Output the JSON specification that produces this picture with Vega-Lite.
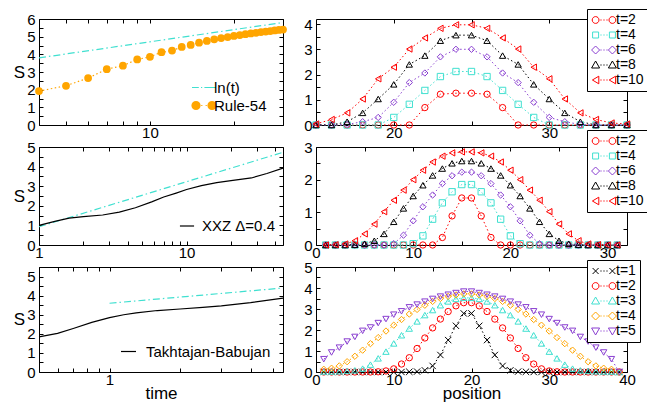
{
"$schema": "https://vega.github.io/schema/vega-lite/v6.json",
"padding": {"left": 12, "top": 8, "right": 0, "bottom": 0},
"bounds": "flush",
"columns": 2,
"spacing": {"row": 22, "column": 33},
"resolve": {"scale": {"color": "independent", "shape": "independent", "stroke": "independent", "x": "independent", "y": "independent"}, "legend": {"color": "independent", "shape": "independent", "stroke": "independent"}},
"config": {
 "font": "Liberation Sans",
 "view": {"stroke": "black", "strokeWidth": 1},
 "axis": {"domain": false, "grid": false, "tickSize": -4, "tickColor": "black", "tickWidth": 1, "labelFont": "Liberation Sans", "labelFontSize": 15, "labelColor": "black", "labelFlush": false, "labelOverlap": false, "titleFont": "Liberation Sans", "titleFontSize": 17, "titleFontWeight": "normal", "titleColor": "black"},
 "axisX": {"labelPadding": 4, "titlePadding": -2},
 "axisY": {"labelPadding": 8},
 "legend": {"labelFont": "Liberation Sans", "labelColor": "black", "labelFontSize": 14, "labelLimit": 300}
},
"datasets": {
 "tl": [
  {"t":4,"S":3.8,"series":"ln(t)"},{"t":10,"S":4.71,"series":"ln(t)"},{"t":30,"S":5.8,"series":"ln(t)"},
  {"t":4,"S":1.92,"series":"Rule-54"},{"t":5,"S":2.22,"series":"Rule-54"},{"t":6,"S":2.66,"series":"Rule-54"},{"t":7,"S":3.16,"series":"Rule-54"},{"t":8,"S":3.36,"series":"Rule-54"},{"t":9,"S":3.71,"series":"Rule-54"},{"t":10,"S":3.86,"series":"Rule-54"},{"t":11,"S":4.12,"series":"Rule-54"},{"t":12,"S":4.21,"series":"Rule-54"},{"t":13,"S":4.42,"series":"Rule-54"},{"t":14,"S":4.53,"series":"Rule-54"},{"t":15,"S":4.66,"series":"Rule-54"},{"t":16,"S":4.76,"series":"Rule-54"},{"t":17,"S":4.85,"series":"Rule-54"},{"t":18,"S":4.92,"series":"Rule-54"},{"t":19,"S":4.98,"series":"Rule-54"},{"t":20,"S":5.04,"series":"Rule-54"},{"t":21,"S":5.09,"series":"Rule-54"},{"t":22,"S":5.14,"series":"Rule-54"},{"t":23,"S":5.18,"series":"Rule-54"},{"t":24,"S":5.22,"series":"Rule-54"},{"t":25,"S":5.26,"series":"Rule-54"},{"t":26,"S":5.29,"series":"Rule-54"},{"t":27,"S":5.32,"series":"Rule-54"},{"t":28,"S":5.35,"series":"Rule-54"},{"t":29,"S":5.38,"series":"Rule-54"},{"t":30,"S":5.4,"series":"Rule-54"}
 ],
 "ml": [
  {"t":1,"S":0.93,"series":"ln(t)"},{"t":10,"S":3.23,"series":"ln(t)"},{"t":45,"S":4.73,"series":"ln(t)"},
  {"t":1,"S":1.0,"series":"XXZ Δ=0.4"},{"t":1.3,"S":1.22,"series":"XXZ Δ=0.4"},{"t":1.6,"S":1.37,"series":"XXZ Δ=0.4"},{"t":2,"S":1.45,"series":"XXZ Δ=0.4"},{"t":2.7,"S":1.53,"series":"XXZ Δ=0.4"},{"t":3.5,"S":1.68,"series":"XXZ Δ=0.4"},{"t":4.5,"S":1.9,"series":"XXZ Δ=0.4"},{"t":5.8,"S":2.2,"series":"XXZ Δ=0.4"},{"t":7,"S":2.45,"series":"XXZ Δ=0.4"},{"t":8.5,"S":2.65,"series":"XXZ Δ=0.4"},{"t":10,"S":2.83,"series":"XXZ Δ=0.4"},{"t":12.6,"S":3.03,"series":"XXZ Δ=0.4"},{"t":16,"S":3.18,"series":"XXZ Δ=0.4"},{"t":20,"S":3.28,"series":"XXZ Δ=0.4"},{"t":27.5,"S":3.42,"series":"XXZ Δ=0.4"},{"t":35,"S":3.65,"series":"XXZ Δ=0.4"},{"t":45,"S":3.92,"series":"XXZ Δ=0.4"}
 ],
 "bl": [
  {"t":1,"S":3.6,"series":"ln(t)"},{"t":2.3,"S":3.99,"series":"ln(t)"},{"t":5.5,"S":4.4,"series":"ln(t)"},
  {"t":0.5,"S":1.84,"series":"Takhtajan-Babujan"},{"t":0.6,"S":2.02,"series":"Takhtajan-Babujan"},{"t":0.7,"S":2.28,"series":"Takhtajan-Babujan"},{"t":0.84,"S":2.6,"series":"Takhtajan-Babujan"},{"t":1,"S":2.85,"series":"Takhtajan-Babujan"},{"t":1.15,"S":3.0,"series":"Takhtajan-Babujan"},{"t":1.3,"S":3.1,"series":"Takhtajan-Babujan"},{"t":1.6,"S":3.22,"series":"Takhtajan-Babujan"},{"t":2,"S":3.3,"series":"Takhtajan-Babujan"},{"t":2.5,"S":3.38,"series":"Takhtajan-Babujan"},{"t":3,"S":3.46,"series":"Takhtajan-Babujan"},{"t":4,"S":3.63,"series":"Takhtajan-Babujan"},{"t":5.5,"S":3.87,"series":"Takhtajan-Babujan"}
 ],
 "tr": [
  {"x":15,"t":"t=2","S":0},{"x":16,"t":"t=2","S":0},{"x":17,"t":"t=2","S":0},{"x":18,"t":"t=2","S":0},{"x":19,"t":"t=2","S":0},{"x":20,"t":"t=2","S":0},{"x":21,"t":"t=2","S":0},{"x":22,"t":"t=2","S":0.69},{"x":23,"t":"t=2","S":1.22},{"x":24,"t":"t=2","S":1.26},{"x":25,"t":"t=2","S":1.26},{"x":26,"t":"t=2","S":1.22},{"x":27,"t":"t=2","S":0.69},{"x":28,"t":"t=2","S":0},{"x":29,"t":"t=2","S":0},{"x":30,"t":"t=2","S":0},{"x":31,"t":"t=2","S":0},{"x":32,"t":"t=2","S":0},{"x":33,"t":"t=2","S":0},{"x":34,"t":"t=2","S":0},{"x":35,"t":"t=2","S":0},
  {"x":15,"t":"t=4","S":0},{"x":16,"t":"t=4","S":0},{"x":17,"t":"t=4","S":0},{"x":18,"t":"t=4","S":0},{"x":19,"t":"t=4","S":0},{"x":20,"t":"t=4","S":0.3},{"x":21,"t":"t=4","S":0.82},{"x":22,"t":"t=4","S":1.37},{"x":23,"t":"t=4","S":1.92},{"x":24,"t":"t=4","S":2.12},{"x":25,"t":"t=4","S":2.12},{"x":26,"t":"t=4","S":1.92},{"x":27,"t":"t=4","S":1.37},{"x":28,"t":"t=4","S":0.82},{"x":29,"t":"t=4","S":0.3},{"x":30,"t":"t=4","S":0},{"x":31,"t":"t=4","S":0},{"x":32,"t":"t=4","S":0},{"x":33,"t":"t=4","S":0},{"x":34,"t":"t=4","S":0},{"x":35,"t":"t=4","S":0},
  {"x":15,"t":"t=6","S":0},{"x":16,"t":"t=6","S":0},{"x":17,"t":"t=6","S":0.02},{"x":18,"t":"t=6","S":0.13},{"x":19,"t":"t=6","S":0.3},{"x":20,"t":"t=6","S":0.9},{"x":21,"t":"t=6","S":1.68},{"x":22,"t":"t=6","S":2.06},{"x":23,"t":"t=6","S":2.7},{"x":24,"t":"t=6","S":3.0},{"x":25,"t":"t=6","S":3.0},{"x":26,"t":"t=6","S":2.7},{"x":27,"t":"t=6","S":2.06},{"x":28,"t":"t=6","S":1.68},{"x":29,"t":"t=6","S":0.9},{"x":30,"t":"t=6","S":0.3},{"x":31,"t":"t=6","S":0.13},{"x":32,"t":"t=6","S":0.02},{"x":33,"t":"t=6","S":0},{"x":34,"t":"t=6","S":0},{"x":35,"t":"t=6","S":0},
  {"x":15,"t":"t=8","S":0},{"x":16,"t":"t=8","S":0},{"x":17,"t":"t=8","S":0.13},{"x":18,"t":"t=8","S":0.48},{"x":19,"t":"t=8","S":1.03},{"x":20,"t":"t=8","S":1.61},{"x":21,"t":"t=8","S":2.4},{"x":22,"t":"t=8","S":2.75},{"x":23,"t":"t=8","S":3.34},{"x":24,"t":"t=8","S":3.56},{"x":25,"t":"t=8","S":3.56},{"x":26,"t":"t=8","S":3.34},{"x":27,"t":"t=8","S":2.75},{"x":28,"t":"t=8","S":2.4},{"x":29,"t":"t=8","S":1.61},{"x":30,"t":"t=8","S":1.03},{"x":31,"t":"t=8","S":0.48},{"x":32,"t":"t=8","S":0.13},{"x":33,"t":"t=8","S":0},{"x":34,"t":"t=8","S":0},{"x":35,"t":"t=8","S":0},
  {"x":15,"t":"t=10","S":0.04},{"x":16,"t":"t=10","S":0.22},{"x":17,"t":"t=10","S":0.48},{"x":18,"t":"t=10","S":1.03},{"x":19,"t":"t=10","S":1.83},{"x":20,"t":"t=10","S":2.29},{"x":21,"t":"t=10","S":3.01},{"x":22,"t":"t=10","S":3.45},{"x":23,"t":"t=10","S":3.83},{"x":24,"t":"t=10","S":3.97},{"x":25,"t":"t=10","S":3.97},{"x":26,"t":"t=10","S":3.83},{"x":27,"t":"t=10","S":3.45},{"x":28,"t":"t=10","S":3.01},{"x":29,"t":"t=10","S":2.29},{"x":30,"t":"t=10","S":1.83},{"x":31,"t":"t=10","S":1.03},{"x":32,"t":"t=10","S":0.48},{"x":33,"t":"t=10","S":0.22},{"x":34,"t":"t=10","S":0.08},{"x":35,"t":"t=10","S":0.04}
 ],
 "mr": [
  {"x":1,"t":"t=2","S":0},{"x":2,"t":"t=2","S":0},{"x":3,"t":"t=2","S":0},{"x":4,"t":"t=2","S":0},{"x":5,"t":"t=2","S":0},{"x":6,"t":"t=2","S":0},{"x":7,"t":"t=2","S":0},{"x":8,"t":"t=2","S":0},{"x":9,"t":"t=2","S":0},{"x":10,"t":"t=2","S":0},{"x":11,"t":"t=2","S":0},{"x":12,"t":"t=2","S":0},{"x":13,"t":"t=2","S":0.23},{"x":14,"t":"t=2","S":0.89},{"x":15,"t":"t=2","S":1.44},{"x":16,"t":"t=2","S":1.44},{"x":17,"t":"t=2","S":0.89},{"x":18,"t":"t=2","S":0.23},{"x":19,"t":"t=2","S":0},{"x":20,"t":"t=2","S":0},{"x":21,"t":"t=2","S":0},{"x":22,"t":"t=2","S":0},{"x":23,"t":"t=2","S":0},{"x":24,"t":"t=2","S":0},{"x":25,"t":"t=2","S":0},{"x":26,"t":"t=2","S":0},{"x":27,"t":"t=2","S":0},{"x":28,"t":"t=2","S":0},{"x":29,"t":"t=2","S":0},{"x":30,"t":"t=2","S":0},{"x":31,"t":"t=2","S":0},
  {"x":1,"t":"t=4","S":0},{"x":2,"t":"t=4","S":0},{"x":3,"t":"t=4","S":0},{"x":4,"t":"t=4","S":0},{"x":5,"t":"t=4","S":0},{"x":6,"t":"t=4","S":0},{"x":7,"t":"t=4","S":0},{"x":8,"t":"t=4","S":0},{"x":9,"t":"t=4","S":0},{"x":10,"t":"t=4","S":0.04},{"x":11,"t":"t=4","S":0.28},{"x":12,"t":"t=4","S":0.79},{"x":13,"t":"t=4","S":1.29},{"x":14,"t":"t=4","S":1.63},{"x":15,"t":"t=4","S":1.85},{"x":16,"t":"t=4","S":1.85},{"x":17,"t":"t=4","S":1.63},{"x":18,"t":"t=4","S":1.29},{"x":19,"t":"t=4","S":0.79},{"x":20,"t":"t=4","S":0.28},{"x":21,"t":"t=4","S":0.04},{"x":22,"t":"t=4","S":0},{"x":23,"t":"t=4","S":0},{"x":24,"t":"t=4","S":0},{"x":25,"t":"t=4","S":0},{"x":26,"t":"t=4","S":0},{"x":27,"t":"t=4","S":0},{"x":28,"t":"t=4","S":0},{"x":29,"t":"t=4","S":0},{"x":30,"t":"t=4","S":0},{"x":31,"t":"t=4","S":0},
  {"x":1,"t":"t=6","S":0},{"x":2,"t":"t=6","S":0},{"x":3,"t":"t=6","S":0},{"x":4,"t":"t=6","S":0},{"x":5,"t":"t=6","S":0},{"x":6,"t":"t=6","S":0},{"x":7,"t":"t=6","S":0},{"x":8,"t":"t=6","S":0.04},{"x":9,"t":"t=6","S":0.3},{"x":10,"t":"t=6","S":0.74},{"x":11,"t":"t=6","S":1.17},{"x":12,"t":"t=6","S":1.53},{"x":13,"t":"t=6","S":1.88},{"x":14,"t":"t=6","S":2.12},{"x":15,"t":"t=6","S":2.23},{"x":16,"t":"t=6","S":2.23},{"x":17,"t":"t=6","S":2.12},{"x":18,"t":"t=6","S":1.88},{"x":19,"t":"t=6","S":1.53},{"x":20,"t":"t=6","S":1.17},{"x":21,"t":"t=6","S":0.74},{"x":22,"t":"t=6","S":0.3},{"x":23,"t":"t=6","S":0.04},{"x":24,"t":"t=6","S":0},{"x":25,"t":"t=6","S":0},{"x":26,"t":"t=6","S":0},{"x":27,"t":"t=6","S":0},{"x":28,"t":"t=6","S":0},{"x":29,"t":"t=6","S":0},{"x":30,"t":"t=6","S":0},{"x":31,"t":"t=6","S":0},
  {"x":1,"t":"t=8","S":0},{"x":2,"t":"t=8","S":0},{"x":3,"t":"t=8","S":0},{"x":4,"t":"t=8","S":0.01},{"x":5,"t":"t=8","S":0.04},{"x":6,"t":"t=8","S":0.13},{"x":7,"t":"t=8","S":0.34},{"x":8,"t":"t=8","S":0.71},{"x":9,"t":"t=8","S":1.12},{"x":10,"t":"t=8","S":1.5},{"x":11,"t":"t=8","S":1.83},{"x":12,"t":"t=8","S":2.13},{"x":13,"t":"t=8","S":2.34},{"x":14,"t":"t=8","S":2.5},{"x":15,"t":"t=8","S":2.57},{"x":16,"t":"t=8","S":2.57},{"x":17,"t":"t=8","S":2.5},{"x":18,"t":"t=8","S":2.34},{"x":19,"t":"t=8","S":2.13},{"x":20,"t":"t=8","S":1.83},{"x":21,"t":"t=8","S":1.5},{"x":22,"t":"t=8","S":1.12},{"x":23,"t":"t=8","S":0.71},{"x":24,"t":"t=8","S":0.34},{"x":25,"t":"t=8","S":0.13},{"x":26,"t":"t=8","S":0.04},{"x":27,"t":"t=8","S":0.01},{"x":28,"t":"t=8","S":0},{"x":29,"t":"t=8","S":0},{"x":30,"t":"t=8","S":0},{"x":31,"t":"t=8","S":0},
  {"x":1,"t":"t=10","S":0},{"x":2,"t":"t=10","S":0.01},{"x":3,"t":"t=10","S":0.03},{"x":4,"t":"t=10","S":0.13},{"x":5,"t":"t=10","S":0.34},{"x":6,"t":"t=10","S":0.64},{"x":7,"t":"t=10","S":1.02},{"x":8,"t":"t=10","S":1.37},{"x":9,"t":"t=10","S":1.68},{"x":10,"t":"t=10","S":2.0},{"x":11,"t":"t=10","S":2.29},{"x":12,"t":"t=10","S":2.54},{"x":13,"t":"t=10","S":2.72},{"x":14,"t":"t=10","S":2.82},{"x":15,"t":"t=10","S":2.85},{"x":16,"t":"t=10","S":2.85},{"x":17,"t":"t=10","S":2.82},{"x":18,"t":"t=10","S":2.72},{"x":19,"t":"t=10","S":2.54},{"x":20,"t":"t=10","S":2.29},{"x":21,"t":"t=10","S":2.0},{"x":22,"t":"t=10","S":1.68},{"x":23,"t":"t=10","S":1.37},{"x":24,"t":"t=10","S":1.02},{"x":25,"t":"t=10","S":0.64},{"x":26,"t":"t=10","S":0.34},{"x":27,"t":"t=10","S":0.13},{"x":28,"t":"t=10","S":0.03},{"x":29,"t":"t=10","S":0.01},{"x":30,"t":"t=10","S":0},{"x":31,"t":"t=10","S":0}
 ],
 "br": [
  {"x":1,"t":"t=1","S":0},{"x":2,"t":"t=1","S":0},{"x":3,"t":"t=1","S":0},{"x":4,"t":"t=1","S":0},{"x":5,"t":"t=1","S":0},{"x":6,"t":"t=1","S":0},{"x":7,"t":"t=1","S":0},{"x":8,"t":"t=1","S":0},{"x":9,"t":"t=1","S":0},{"x":10,"t":"t=1","S":0},{"x":11,"t":"t=1","S":0},{"x":12,"t":"t=1","S":0.01},{"x":13,"t":"t=1","S":0.02},{"x":14,"t":"t=1","S":0.08},{"x":15,"t":"t=1","S":0.29},{"x":16,"t":"t=1","S":0.81},{"x":17,"t":"t=1","S":1.52},{"x":18,"t":"t=1","S":2.2},{"x":19,"t":"t=1","S":2.79},{"x":20,"t":"t=1","S":2.79},{"x":21,"t":"t=1","S":2.2},{"x":22,"t":"t=1","S":1.52},{"x":23,"t":"t=1","S":0.81},{"x":24,"t":"t=1","S":0.29},{"x":25,"t":"t=1","S":0.08},{"x":26,"t":"t=1","S":0.02},{"x":27,"t":"t=1","S":0.01},{"x":28,"t":"t=1","S":0},{"x":29,"t":"t=1","S":0},{"x":30,"t":"t=1","S":0},{"x":31,"t":"t=1","S":0},{"x":32,"t":"t=1","S":0},{"x":33,"t":"t=1","S":0},{"x":34,"t":"t=1","S":0},{"x":35,"t":"t=1","S":0},{"x":36,"t":"t=1","S":0},{"x":37,"t":"t=1","S":0},{"x":38,"t":"t=1","S":0},{"x":39,"t":"t=1","S":0},
  {"x":1,"t":"t=2","S":0},{"x":2,"t":"t=2","S":0},{"x":3,"t":"t=2","S":0},{"x":4,"t":"t=2","S":0},{"x":5,"t":"t=2","S":0},{"x":6,"t":"t=2","S":0},{"x":7,"t":"t=2","S":0},{"x":8,"t":"t=2","S":0.01},{"x":9,"t":"t=2","S":0.05},{"x":10,"t":"t=2","S":0.15},{"x":11,"t":"t=2","S":0.38},{"x":12,"t":"t=2","S":0.68},{"x":13,"t":"t=2","S":1.12},{"x":14,"t":"t=2","S":1.62},{"x":15,"t":"t=2","S":2.1},{"x":16,"t":"t=2","S":2.52},{"x":17,"t":"t=2","S":2.88},{"x":18,"t":"t=2","S":3.15},{"x":19,"t":"t=2","S":3.3},{"x":20,"t":"t=2","S":3.3},{"x":21,"t":"t=2","S":3.15},{"x":22,"t":"t=2","S":2.88},{"x":23,"t":"t=2","S":2.52},{"x":24,"t":"t=2","S":2.1},{"x":25,"t":"t=2","S":1.62},{"x":26,"t":"t=2","S":1.12},{"x":27,"t":"t=2","S":0.68},{"x":28,"t":"t=2","S":0.38},{"x":29,"t":"t=2","S":0.15},{"x":30,"t":"t=2","S":0.05},{"x":31,"t":"t=2","S":0.01},{"x":32,"t":"t=2","S":0},{"x":33,"t":"t=2","S":0},{"x":34,"t":"t=2","S":0},{"x":35,"t":"t=2","S":0},{"x":36,"t":"t=2","S":0},{"x":37,"t":"t=2","S":0},{"x":38,"t":"t=2","S":0},{"x":39,"t":"t=2","S":0},
  {"x":1,"t":"t=3","S":0.02},{"x":2,"t":"t=3","S":0.02},{"x":3,"t":"t=3","S":0.03},{"x":4,"t":"t=3","S":0.05},{"x":5,"t":"t=3","S":0.08},{"x":6,"t":"t=3","S":0.16},{"x":7,"t":"t=3","S":0.35},{"x":8,"t":"t=3","S":0.65},{"x":9,"t":"t=3","S":0.97},{"x":10,"t":"t=3","S":1.36},{"x":11,"t":"t=3","S":1.75},{"x":12,"t":"t=3","S":2.07},{"x":13,"t":"t=3","S":2.41},{"x":14,"t":"t=3","S":2.71},{"x":15,"t":"t=3","S":2.95},{"x":16,"t":"t=3","S":3.18},{"x":17,"t":"t=3","S":3.36},{"x":18,"t":"t=3","S":3.48},{"x":19,"t":"t=3","S":3.53},{"x":20,"t":"t=3","S":3.53},{"x":21,"t":"t=3","S":3.48},{"x":22,"t":"t=3","S":3.36},{"x":23,"t":"t=3","S":3.18},{"x":24,"t":"t=3","S":2.95},{"x":25,"t":"t=3","S":2.71},{"x":26,"t":"t=3","S":2.41},{"x":27,"t":"t=3","S":2.07},{"x":28,"t":"t=3","S":1.75},{"x":29,"t":"t=3","S":1.36},{"x":30,"t":"t=3","S":0.97},{"x":31,"t":"t=3","S":0.65},{"x":32,"t":"t=3","S":0.35},{"x":33,"t":"t=3","S":0.16},{"x":34,"t":"t=3","S":0.08},{"x":35,"t":"t=3","S":0.05},{"x":36,"t":"t=3","S":0.03},{"x":37,"t":"t=3","S":0.02},{"x":38,"t":"t=3","S":0.02},{"x":39,"t":"t=3","S":0},
  {"x":1,"t":"t=4","S":0.13},{"x":2,"t":"t=4","S":0.18},{"x":3,"t":"t=4","S":0.29},{"x":4,"t":"t=4","S":0.49},{"x":5,"t":"t=4","S":0.75},{"x":6,"t":"t=4","S":1.04},{"x":7,"t":"t=4","S":1.35},{"x":8,"t":"t=4","S":1.64},{"x":9,"t":"t=4","S":1.95},{"x":10,"t":"t=4","S":2.23},{"x":11,"t":"t=4","S":2.5},{"x":12,"t":"t=4","S":2.76},{"x":13,"t":"t=4","S":2.98},{"x":14,"t":"t=4","S":3.18},{"x":15,"t":"t=4","S":3.36},{"x":16,"t":"t=4","S":3.5},{"x":17,"t":"t=4","S":3.6},{"x":18,"t":"t=4","S":3.67},{"x":19,"t":"t=4","S":3.72},{"x":20,"t":"t=4","S":3.72},{"x":21,"t":"t=4","S":3.67},{"x":22,"t":"t=4","S":3.6},{"x":23,"t":"t=4","S":3.5},{"x":24,"t":"t=4","S":3.36},{"x":25,"t":"t=4","S":3.18},{"x":26,"t":"t=4","S":2.98},{"x":27,"t":"t=4","S":2.76},{"x":28,"t":"t=4","S":2.5},{"x":29,"t":"t=4","S":2.23},{"x":30,"t":"t=4","S":1.95},{"x":31,"t":"t=4","S":1.64},{"x":32,"t":"t=4","S":1.35},{"x":33,"t":"t=4","S":1.04},{"x":34,"t":"t=4","S":0.75},{"x":35,"t":"t=4","S":0.49},{"x":36,"t":"t=4","S":0.29},{"x":37,"t":"t=4","S":0.18},{"x":38,"t":"t=4","S":0.13},{"x":39,"t":"t=4","S":0},
  {"x":1,"t":"t=5","S":0.61},{"x":2,"t":"t=5","S":0.93},{"x":3,"t":"t=5","S":1.16},{"x":4,"t":"t=5","S":1.45},{"x":5,"t":"t=5","S":1.67},{"x":6,"t":"t=5","S":1.96},{"x":7,"t":"t=5","S":2.12},{"x":8,"t":"t=5","S":2.33},{"x":9,"t":"t=5","S":2.52},{"x":10,"t":"t=5","S":2.73},{"x":11,"t":"t=5","S":2.89},{"x":12,"t":"t=5","S":3.08},{"x":13,"t":"t=5","S":3.21},{"x":14,"t":"t=5","S":3.35},{"x":15,"t":"t=5","S":3.48},{"x":16,"t":"t=5","S":3.59},{"x":17,"t":"t=5","S":3.68},{"x":18,"t":"t=5","S":3.76},{"x":19,"t":"t=5","S":3.83},{"x":20,"t":"t=5","S":3.83},{"x":21,"t":"t=5","S":3.76},{"x":22,"t":"t=5","S":3.68},{"x":23,"t":"t=5","S":3.59},{"x":24,"t":"t=5","S":3.48},{"x":25,"t":"t=5","S":3.35},{"x":26,"t":"t=5","S":3.21},{"x":27,"t":"t=5","S":3.08},{"x":28,"t":"t=5","S":2.89},{"x":29,"t":"t=5","S":2.73},{"x":30,"t":"t=5","S":2.52},{"x":31,"t":"t=5","S":2.33},{"x":32,"t":"t=5","S":2.12},{"x":33,"t":"t=5","S":1.96},{"x":34,"t":"t=5","S":1.67},{"x":35,"t":"t=5","S":1.45},{"x":36,"t":"t=5","S":1.16},{"x":37,"t":"t=5","S":0.93},{"x":38,"t":"t=5","S":0.61},{"x":39,"t":"t=5","S":0}
 ]
},
"concat": [
 {
  "width": 244, "height": 106, "data": {"name": "tl"},
  "layer": [
   {"transform": [{"filter": "datum.series === 'ln(t)'"}],
    "mark": {"type": "line", "strokeDash": [7, 3, 1.5, 3], "strokeWidth": 1.2, "color": "#40e0d0"},
    "encoding": {
     "x": {"field": "t", "type": "quantitative", "scale": {"type": "log", "domain": [4, 30], "nice": false}, "axis": {"orient": "bottom", "values": [4,5,6,7,8,9,10,20,30], "labelExpr": "datum.value === 10 ? '10' : ''", "title": null}},
     "y": {"field": "S", "type": "quantitative", "scale": {"domain": [0, 6], "nice": false}, "axis": {"orient": "left", "values": [0,0.5,1,1.5,2,2.5,3,3.5,4,4.5,5,5.5,6], "labelExpr": "datum.value % 1 === 0 ? '' + datum.value : ''", "title": "S", "titleAngle": 0, "titleX": -20, "titleY": 53, "titleAlign": "center", "titleBaseline": "middle"}}
    }},
   {"transform": [{"filter": "datum.series === 'Rule-54'"}],
    "mark": {"type": "line", "strokeDash": [1.5, 2.5], "strokeWidth": 1.2, "color": "#ffa500"},
    "encoding": {
     "x": {"field": "t", "type": "quantitative", "scale": {"type": "log", "domain": [4, 30], "nice": false}, "axis": null},
     "y": {"field": "S", "type": "quantitative", "scale": {"domain": [0, 6], "nice": false}, "axis": null}
    }},
   {"transform": [{"filter": "datum.series === 'Rule-54'"}],
    "mark": {"type": "point", "filled": true, "size": 60, "opacity": 1, "color": "#ffa500"},
    "encoding": {
     "x": {"field": "t", "type": "quantitative", "scale": {"type": "log", "domain": [4, 30], "nice": false}, "axis": null},
     "y": {"field": "S", "type": "quantitative", "scale": {"domain": [0, 6], "nice": false}, "axis": null}
    }},
   {"mark": {"type": "point", "filled": true, "opacity": 0, "strokeWidth": 1.2, "size": 64},
    "encoding": {
     "x": {"field": "t", "type": "quantitative", "scale": {"type": "log", "domain": [4, 30], "nice": false}, "axis": null},
     "y": {"field": "S", "type": "quantitative", "scale": {"domain": [0, 6], "nice": false}, "axis": null},
     "color": {"field": "series", "type": "nominal", "scale": {"domain": ["ln(t)", "Rule-54"], "range": ["#40e0d0", "#ffa500"]},
      "legend": {"orient": "none", "legendX": 157.5, "legendY": 61, "title": null, "padding": 0, "labelFontSize": 15, "symbolSize": 64, "labelOffset": 2.5, "rowPadding": 2, "symbolStrokeWidth": 1.2}},
     "stroke": {"field": "series", "type": "nominal", "scale": {"domain": ["ln(t)", "Rule-54"], "range": ["#40e0d0", "#ffa500"]},
      "legend": {"orient": "none", "legendX": 157.5, "legendY": 61, "title": null, "padding": 0, "labelFontSize": 15, "symbolSize": 64, "labelOffset": 2.5, "rowPadding": 2, "symbolStrokeWidth": 1.2}},
     "shape": {"field": "series", "type": "nominal", "scale": {"domain": ["ln(t)", "Rule-54"], "range": ["M-3,0H-1.3M-0.75,0H-0.45M0.1,0H3", "M-3,0a1,1 0 1,0 2,0a1,1 0 1,0 -2,0M-2.7,0a0.7,0.7 0 1,0 1.4,0a0.7,0.7 0 1,0 -1.4,0M-2.4,0a0.4,0.4 0 1,0 0.8,0a0.4,0.4 0 1,0 -0.8,0M-2.15,0a0.15,0.15 0 1,0 0.3,0a0.15,0.15 0 1,0 -0.3,0M1,0a1,1 0 1,0 2,0a1,1 0 1,0 -2,0M1.3,0a0.7,0.7 0 1,0 1.4,0a0.7,0.7 0 1,0 -1.4,0M1.6,0a0.4,0.4 0 1,0 0.8,0a0.4,0.4 0 1,0 -0.8,0M1.85,0a0.15,0.15 0 1,0 0.3,0a0.15,0.15 0 1,0 -0.3,0M-0.7,0h0.3M0.4,0h0.3"]},
      "legend": {"orient": "none", "legendX": 157.5, "legendY": 61, "title": null, "padding": 0, "labelFontSize": 15, "symbolSize": 64, "labelOffset": 2.5, "rowPadding": 2, "symbolStrokeWidth": 1.2}}
    }},
   {"mark": {"type": "point", "opacity": 0},
    "encoding": {
     "x": {"field": "t", "type": "quantitative", "scale": {"type": "log", "domain": [4, 30], "nice": false}, "axis": {"orient": "top", "values": [4,5,6,7,8,9,10,20,30], "labels": false, "title": null}},
     "y": {"field": "S", "type": "quantitative", "scale": {"domain": [0, 6], "nice": false}, "axis": {"orient": "right", "values": [0,0.5,1,1.5,2,2.5,3,3.5,4,4.5,5,5.5,6], "labels": false, "title": null}}
    }}
  ],
  "resolve": {"axis": {"x": "independent", "y": "independent"}}
 },
 {
  "width": 311, "height": 106, "data": {"name": "tr"},
  "layer": [
   {"mark": {"type": "line", "strokeDash": [1.5, 2.5], "strokeWidth": 1},
    "encoding": {
     "x": {"field": "x", "type": "quantitative", "scale": {"domain": [15, 35], "nice": false}, "axis": {"orient": "bottom", "values": [20, 25, 30], "labelExpr": "datum.value % 10 === 0 ? '' + datum.value : ''", "title": null}},
     "y": {"field": "S", "type": "quantitative", "scale": {"domain": [0, 4.2], "nice": false}, "axis": {"orient": "left", "values": [0,0.5,1,1.5,2,2.5,3,3.5,4], "labelExpr": "datum.value % 1 === 0 ? '' + datum.value : ''", "title": null}},
     "color": {"field": "t", "type": "nominal", "scale": {"domain": ["t=2","t=4","t=6","t=8","t=10"], "range": ["#ff0000","#40e0d0","#8a3fd1","#000000","#ff0000"]}, "legend": null}
    }},
   {"mark": {"type": "point", "filled": false, "size": 40, "strokeWidth": 1, "opacity": 1},
    "encoding": {
     "x": {"field": "x", "type": "quantitative", "scale": {"domain": [15, 35], "nice": false}, "axis": null},
     "y": {"field": "S", "type": "quantitative", "scale": {"domain": [0, 4.2], "nice": false}, "axis": null},
     "color": {"field": "t", "type": "nominal", "scale": {"domain": ["t=2","t=4","t=6","t=8","t=10"], "range": ["#ff0000","#40e0d0","#8a3fd1","#000000","#ff0000"]}, "legend": null},
     "shape": {"field": "t", "type": "nominal", "scale": {"domain": ["t=2","t=4","t=6","t=8","t=10"], "range": ["circle","square","diamond","triangle-up","triangle-left"]}, "legend": null}
    }},
   {"mark": {"type": "point", "filled": false, "opacity": 0, "strokeWidth": 1, "size": 64},
    "encoding": {
     "x": {"field": "x", "type": "quantitative", "scale": {"domain": [15, 35], "nice": false}, "axis": null},
     "y": {"field": "S", "type": "quantitative", "scale": {"domain": [0, 4.2], "nice": false}, "axis": null},
     "color": {"field": "t", "type": "nominal", "scale": {"domain": ["t=2","t=4","t=6","t=8","t=10"], "range": ["#ff0000","#40e0d0","#8a3fd1","#000000","#ff0000"]},
      "legend": {"orient": "none", "legendX": 271, "legendY": -10, "title": null, "padding": 4, "strokeColor": "black", "fillColor": "white", "labelFontSize": 14, "symbolSize": 64, "symbolStrokeWidth": 1, "symbolOffset": 6, "labelOffset": 5, "rowPadding": 1}},
     "shape": {"field": "t", "type": "nominal", "scale": {"domain": ["t=2","t=4","t=6","t=8","t=10"], "range": ["M-2.95,0a0.85,0.85 0 1,0 1.7,0a0.85,0.85 0 1,0 -1.7,0M1.25,0a0.85,0.85 0 1,0 1.7,0a0.85,0.85 0 1,0 -1.7,0M-0.9,0h0.3M-0.15,0h0.3M0.6,0h0.3", "M-2.85,-0.75h1.5v1.5h-1.5zM1.35,-0.75h1.5v1.5h-1.5zM-0.9,0h0.3M-0.15,0h0.3M0.6,0h0.3", "M-2.1,-1l1,1l-1,1l-1,-1zM2.1,-1l1,1l-1,1l-1,-1zM-0.9,0h0.3M-0.15,0h0.3M0.6,0h0.3", "M-2.1,-1L-1.1,0.75L-3.1,0.75zM2.1,-1L3.1,0.75L1.1,0.75zM-0.9,0h0.3M-0.15,0h0.3M0.6,0h0.3", "M-2.9,0L-1.3,-0.95L-1.3,0.95zM1.3,0L2.9,-0.95L2.9,0.95zM-0.9,0h0.3M-0.15,0h0.3M0.6,0h0.3"]},
      "legend": {"orient": "none", "legendX": 271, "legendY": -10, "title": null, "padding": 4, "strokeColor": "black", "fillColor": "white", "labelFontSize": 14, "symbolSize": 64, "symbolStrokeWidth": 1, "symbolOffset": 6, "labelOffset": 5, "rowPadding": 1}}
    }},
   {"mark": {"type": "point", "opacity": 0},
    "encoding": {
     "x": {"field": "x", "type": "quantitative", "scale": {"domain": [15, 35], "nice": false}, "axis": {"orient": "top", "values": [20, 25, 30], "labels": false, "title": null}},
     "y": {"field": "S", "type": "quantitative", "scale": {"domain": [0, 4.2], "nice": false}, "axis": {"orient": "right", "values": [0,0.5,1,1.5,2,2.5,3,3.5,4], "labels": false, "title": null}}
    }}
  ],
  "resolve": {"scale": {"color": "independent", "shape": "independent"}, "axis": {"x": "independent", "y": "independent"}}
 },
 {
  "width": 244, "height": 98, "data": {"name": "ml"},
  "layer": [
   {"transform": [{"filter": "datum.series === 'ln(t)'"}],
    "mark": {"type": "line", "strokeDash": [7, 3, 1.5, 3], "strokeWidth": 1.2, "color": "#40e0d0"},
    "encoding": {
     "x": {"field": "t", "type": "quantitative", "scale": {"type": "log", "domain": [1, 45], "nice": false}, "axis": {"orient": "bottom", "values": [1,2,3,4,5,6,7,8,9,10,20,30,40], "labelExpr": "datum.value === 1 || datum.value === 10 ? '' + datum.value : ''", "title": null}},
     "y": {"field": "S", "type": "quantitative", "scale": {"domain": [0, 5], "nice": false}, "axis": {"orient": "left", "values": [0,0.5,1,1.5,2,2.5,3,3.5,4,4.5,5], "labelExpr": "datum.value % 1 === 0 ? '' + datum.value : ''", "title": "S", "titleAngle": 0, "titleX": -20, "titleY": 49, "titleAlign": "center", "titleBaseline": "middle"}}
    }},
   {"transform": [{"filter": "datum.series !== 'ln(t)'"}],
    "mark": {"type": "line", "strokeWidth": 1.2},
    "encoding": {
     "x": {"field": "t", "type": "quantitative", "scale": {"type": "log", "domain": [1, 45], "nice": false}, "axis": null},
     "y": {"field": "S", "type": "quantitative", "scale": {"domain": [0, 5], "nice": false}, "axis": null},
     "color": {"field": "series", "type": "nominal", "scale": {"domain": ["XXZ Δ=0.4"], "range": ["#000000"]},
      "legend": {"orient": "none", "legendX": 140, "legendY": 71, "title": null, "padding": 0, "labelFontSize": 15, "symbolSize": 200, "symbolStrokeWidth": 1.2, "labelOffset": 7}}
    }},
   {"mark": {"type": "point", "opacity": 0},
    "encoding": {
     "x": {"field": "t", "type": "quantitative", "scale": {"type": "log", "domain": [1, 45], "nice": false}, "axis": {"orient": "top", "values": [1,2,3,4,5,6,7,8,9,10,20,30,40], "labels": false, "title": null}},
     "y": {"field": "S", "type": "quantitative", "scale": {"domain": [0, 5], "nice": false}, "axis": {"orient": "right", "values": [0,0.5,1,1.5,2,2.5,3,3.5,4,4.5,5], "labels": false, "title": null}}
    }}
  ],
  "resolve": {"axis": {"x": "independent", "y": "independent"}}
 },
 {
  "width": 311, "height": 98, "data": {"name": "mr"},
  "layer": [
   {"mark": {"type": "line", "strokeDash": [1.5, 2.5], "strokeWidth": 1},
    "encoding": {
     "x": {"field": "x", "type": "quantitative", "scale": {"domain": [0, 32], "nice": false}, "axis": {"orient": "bottom", "values": [0,5,10,15,20,25,30], "labelExpr": "datum.value % 10 === 0 ? '' + datum.value : ''", "title": null}},
     "y": {"field": "S", "type": "quantitative", "scale": {"domain": [0, 3], "nice": false}, "axis": {"orient": "left", "values": [0,0.5,1,1.5,2,2.5,3], "labelExpr": "datum.value % 1 === 0 ? '' + datum.value : ''", "title": null}},
     "color": {"field": "t", "type": "nominal", "scale": {"domain": ["t=2","t=4","t=6","t=8","t=10"], "range": ["#ff0000","#40e0d0","#8a3fd1","#000000","#ff0000"]}, "legend": null}
    }},
   {"mark": {"type": "point", "filled": false, "size": 40, "strokeWidth": 1, "opacity": 1},
    "encoding": {
     "x": {"field": "x", "type": "quantitative", "scale": {"domain": [0, 32], "nice": false}, "axis": null},
     "y": {"field": "S", "type": "quantitative", "scale": {"domain": [0, 3], "nice": false}, "axis": null},
     "color": {"field": "t", "type": "nominal", "scale": {"domain": ["t=2","t=4","t=6","t=8","t=10"], "range": ["#ff0000","#40e0d0","#8a3fd1","#000000","#ff0000"]}, "legend": null},
     "shape": {"field": "t", "type": "nominal", "scale": {"domain": ["t=2","t=4","t=6","t=8","t=10"], "range": ["circle","square","diamond","triangle-up","triangle-left"]}, "legend": null}
    }},
   {"mark": {"type": "point", "filled": false, "opacity": 0, "strokeWidth": 1, "size": 64},
    "encoding": {
     "x": {"field": "x", "type": "quantitative", "scale": {"domain": [0, 32], "nice": false}, "axis": null},
     "y": {"field": "S", "type": "quantitative", "scale": {"domain": [0, 3], "nice": false}, "axis": null},
     "color": {"field": "t", "type": "nominal", "scale": {"domain": ["t=2","t=4","t=6","t=8","t=10"], "range": ["#ff0000","#40e0d0","#8a3fd1","#000000","#ff0000"]},
      "legend": {"orient": "none", "legendX": 271, "legendY": -17, "title": null, "padding": 4, "strokeColor": "black", "fillColor": "white", "labelFontSize": 14, "symbolSize": 64, "symbolStrokeWidth": 1, "symbolOffset": 6, "labelOffset": 5, "rowPadding": 1}},
     "shape": {"field": "t", "type": "nominal", "scale": {"domain": ["t=2","t=4","t=6","t=8","t=10"], "range": ["M-2.95,0a0.85,0.85 0 1,0 1.7,0a0.85,0.85 0 1,0 -1.7,0M1.25,0a0.85,0.85 0 1,0 1.7,0a0.85,0.85 0 1,0 -1.7,0M-0.9,0h0.3M-0.15,0h0.3M0.6,0h0.3", "M-2.85,-0.75h1.5v1.5h-1.5zM1.35,-0.75h1.5v1.5h-1.5zM-0.9,0h0.3M-0.15,0h0.3M0.6,0h0.3", "M-2.1,-1l1,1l-1,1l-1,-1zM2.1,-1l1,1l-1,1l-1,-1zM-0.9,0h0.3M-0.15,0h0.3M0.6,0h0.3", "M-2.1,-1L-1.1,0.75L-3.1,0.75zM2.1,-1L3.1,0.75L1.1,0.75zM-0.9,0h0.3M-0.15,0h0.3M0.6,0h0.3", "M-2.9,0L-1.3,-0.95L-1.3,0.95zM1.3,0L2.9,-0.95L2.9,0.95zM-0.9,0h0.3M-0.15,0h0.3M0.6,0h0.3"]},
      "legend": {"orient": "none", "legendX": 271, "legendY": -17, "title": null, "padding": 4, "strokeColor": "black", "fillColor": "white", "labelFontSize": 14, "symbolSize": 64, "symbolStrokeWidth": 1, "symbolOffset": 6, "labelOffset": 5, "rowPadding": 1}}
    }},
   {"mark": {"type": "point", "opacity": 0},
    "encoding": {
     "x": {"field": "x", "type": "quantitative", "scale": {"domain": [0, 32], "nice": false}, "axis": {"orient": "top", "values": [0,5,10,15,20,25,30], "labels": false, "title": null}},
     "y": {"field": "S", "type": "quantitative", "scale": {"domain": [0, 3], "nice": false}, "axis": {"orient": "right", "values": [0,0.5,1,1.5,2,2.5,3], "labels": false, "title": null}}
    }}
  ],
  "resolve": {"scale": {"color": "independent", "shape": "independent"}, "axis": {"x": "independent", "y": "independent"}}
 },
 {
  "width": 244, "height": 105, "data": {"name": "bl"},
  "layer": [
   {"transform": [{"filter": "datum.series === 'ln(t)'"}],
    "mark": {"type": "line", "strokeDash": [7, 3, 1.5, 3], "strokeWidth": 1.2, "color": "#40e0d0"},
    "encoding": {
     "x": {"field": "t", "type": "quantitative", "scale": {"type": "log", "domain": [0.5, 5.5], "nice": false}, "axis": {"orient": "bottom", "values": [0.5,0.6,0.7,0.8,0.9,1,2,3,4,5], "labelExpr": "datum.value === 1 ? '1' : ''", "title": "time"}},
     "y": {"field": "S", "type": "quantitative", "scale": {"domain": [0, 5.5], "nice": false}, "axis": {"orient": "left", "values": [0,0.5,1,1.5,2,2.5,3,3.5,4,4.5,5,5.5], "labelExpr": "datum.value % 1 === 0 ? '' + datum.value : ''", "title": "S", "titleAngle": 0, "titleX": -20, "titleY": 52, "titleAlign": "center", "titleBaseline": "middle"}}
    }},
   {"transform": [{"filter": "datum.series !== 'ln(t)'"}],
    "mark": {"type": "line", "strokeWidth": 1.2},
    "encoding": {
     "x": {"field": "t", "type": "quantitative", "scale": {"type": "log", "domain": [0.5, 5.5], "nice": false}, "axis": null},
     "y": {"field": "S", "type": "quantitative", "scale": {"domain": [0, 5.5], "nice": false}, "axis": null},
     "color": {"field": "series", "type": "nominal", "scale": {"domain": ["Takhtajan-Babujan"], "range": ["#000000"]},
      "legend": {"orient": "none", "legendX": 81, "legendY": 76, "title": null, "padding": 0, "labelFontSize": 15, "symbolSize": 225, "symbolStrokeWidth": 1.2, "labelOffset": 9}}
    }},
   {"mark": {"type": "point", "opacity": 0},
    "encoding": {
     "x": {"field": "t", "type": "quantitative", "scale": {"type": "log", "domain": [0.5, 5.5], "nice": false}, "axis": {"orient": "top", "values": [0.5,0.6,0.7,0.8,0.9,1,2,3,4,5], "labels": false, "title": null}},
     "y": {"field": "S", "type": "quantitative", "scale": {"domain": [0, 5.5], "nice": false}, "axis": {"orient": "right", "values": [0,0.5,1,1.5,2,2.5,3,3.5,4,4.5,5,5.5], "labels": false, "title": null}}
    }}
  ],
  "resolve": {"axis": {"x": "independent", "y": "independent"}}
 },
 {
  "width": 311, "height": 105, "data": {"name": "br"},
  "layer": [
   {"mark": {"type": "line", "strokeDash": [1.5, 2.5], "strokeWidth": 1},
    "encoding": {
     "x": {"field": "x", "type": "quantitative", "scale": {"domain": [0, 40], "nice": false}, "axis": {"orient": "bottom", "values": [0,5,10,15,20,25,30,35,40], "labelExpr": "datum.value % 10 === 0 ? '' + datum.value : ''", "title": "position"}},
     "y": {"field": "S", "type": "quantitative", "scale": {"domain": [0, 5], "nice": false}, "axis": {"orient": "left", "values": [0,0.5,1,1.5,2,2.5,3,3.5,4,4.5,5], "labelExpr": "datum.value % 1 === 0 ? '' + datum.value : ''", "title": null}},
     "color": {"field": "t", "type": "nominal", "scale": {"domain": ["t=1","t=2","t=3","t=4","t=5"], "range": ["#000000","#ff0000","#40e0d0","#ffa500","#8a3fd1"]}, "legend": null}
    }},
   {"mark": {"type": "point", "filled": false, "size": 40, "strokeWidth": 1, "opacity": 1},
    "encoding": {
     "x": {"field": "x", "type": "quantitative", "scale": {"domain": [0, 40], "nice": false}, "axis": null},
     "y": {"field": "S", "type": "quantitative", "scale": {"domain": [0, 5], "nice": false}, "axis": null},
     "color": {"field": "t", "type": "nominal", "scale": {"domain": ["t=1","t=2","t=3","t=4","t=5"], "range": ["#000000","#ff0000","#40e0d0","#ffa500","#8a3fd1"]}, "legend": null},
     "shape": {"field": "t", "type": "nominal", "scale": {"domain": ["t=1","t=2","t=3","t=4","t=5"], "range": ["M-1,-1L1,1M-1,1L1,-1","circle","triangle-up","diamond","triangle-down"]}, "legend": null}
    }},
   {"mark": {"type": "point", "filled": false, "opacity": 0, "strokeWidth": 1, "size": 64},
    "encoding": {
     "x": {"field": "x", "type": "quantitative", "scale": {"domain": [0, 40], "nice": false}, "axis": null},
     "y": {"field": "S", "type": "quantitative", "scale": {"domain": [0, 5], "nice": false}, "axis": null},
     "color": {"field": "t", "type": "nominal", "scale": {"domain": ["t=1","t=2","t=3","t=4","t=5"], "range": ["#000000","#ff0000","#40e0d0","#ffa500","#8a3fd1"]},
      "legend": {"orient": "none", "legendX": 271, "legendY": -7, "title": null, "padding": 4, "strokeColor": "black", "fillColor": "white", "labelFontSize": 14, "symbolSize": 64, "symbolStrokeWidth": 1, "symbolOffset": 6, "labelOffset": 5, "rowPadding": 1}},
     "shape": {"field": "t", "type": "nominal", "scale": {"domain": ["t=1","t=2","t=3","t=4","t=5"], "range": ["M-2.85,-0.75L-1.35,0.75M-2.85,0.75L-1.35,-0.75M1.35,-0.75L2.85,0.75M1.35,0.75L2.85,-0.75M-0.9,0h0.3M-0.15,0h0.3M0.6,0h0.3", "M-2.95,0a0.85,0.85 0 1,0 1.7,0a0.85,0.85 0 1,0 -1.7,0M1.25,0a0.85,0.85 0 1,0 1.7,0a0.85,0.85 0 1,0 -1.7,0M-0.9,0h0.3M-0.15,0h0.3M0.6,0h0.3", "M-2.1,-1L-1.1,0.75L-3.1,0.75zM2.1,-1L3.1,0.75L1.1,0.75zM-0.9,0h0.3M-0.15,0h0.3M0.6,0h0.3", "M-2.1,-1l1,1l-1,1l-1,-1zM2.1,-1l1,1l-1,1l-1,-1zM-0.9,0h0.3M-0.15,0h0.3M0.6,0h0.3", "M-2.1,1L-1.1,-0.75L-3.1,-0.75zM2.1,1L3.1,-0.75L1.1,-0.75zM-0.9,0h0.3M-0.15,0h0.3M0.6,0h0.3"]},
      "legend": {"orient": "none", "legendX": 271, "legendY": -7, "title": null, "padding": 4, "strokeColor": "black", "fillColor": "white", "labelFontSize": 14, "symbolSize": 64, "symbolStrokeWidth": 1, "symbolOffset": 6, "labelOffset": 5, "rowPadding": 1}}
    }},
   {"mark": {"type": "point", "opacity": 0},
    "encoding": {
     "x": {"field": "x", "type": "quantitative", "scale": {"domain": [0, 40], "nice": false}, "axis": {"orient": "top", "values": [0,5,10,15,20,25,30,35,40], "labels": false, "title": null}},
     "y": {"field": "S", "type": "quantitative", "scale": {"domain": [0, 5], "nice": false}, "axis": {"orient": "right", "values": [0,0.5,1,1.5,2,2.5,3,3.5,4,4.5,5], "labels": false, "title": null}}
    }}
  ],
  "resolve": {"scale": {"color": "independent", "shape": "independent"}, "axis": {"x": "independent", "y": "independent"}}
 }
]
}
